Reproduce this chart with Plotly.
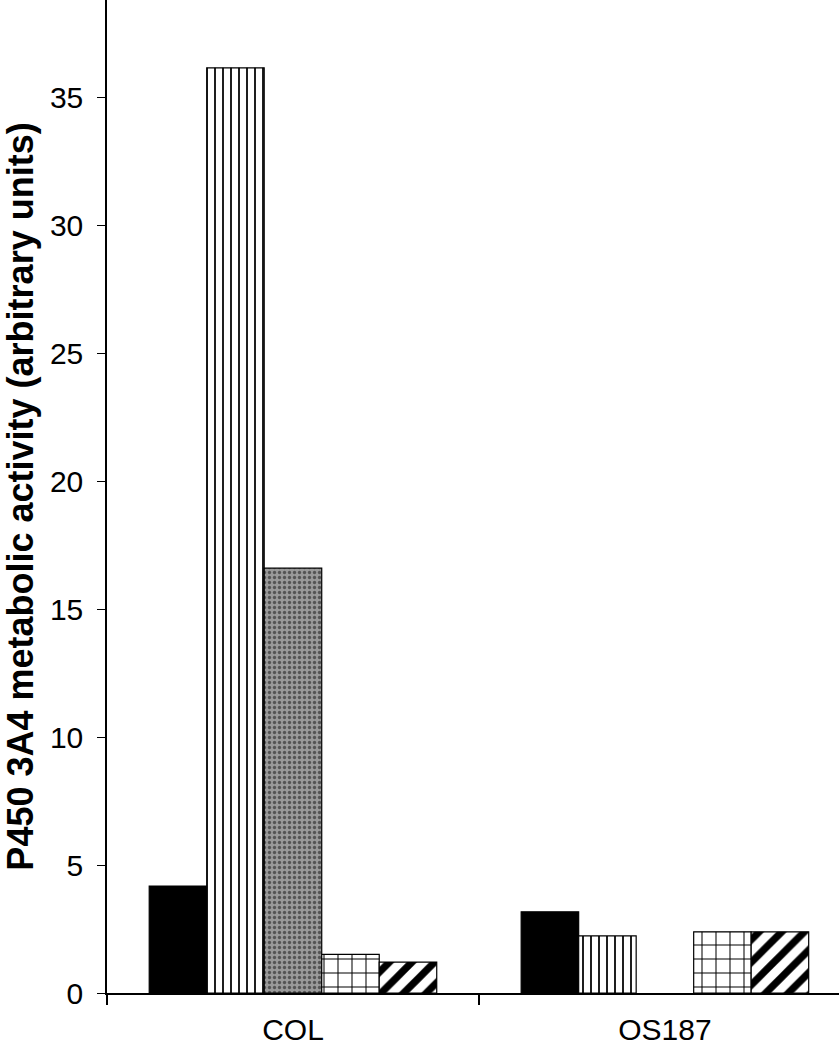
import plotly.graph_objects as go

categories = ["COL", "OS187"]
series_names = ["Series 1", "Series 2", "Series 3", "Series 4", "Series 5"]
s1 = [4.18, 3.17]
s2 = [36.15, 2.23]
s3 = [16.6, None]
s4 = [1.51, 2.39]
s5 = [1.21, 2.39]
y_ticks = [0, 5, 10, 15, 20, 25, 30, 35]
y_title = "P450 3A4 metabolic activity (arbitrary units)"

styles = [
    dict(color="black", pattern=dict(shape="")),
    dict(color="white", pattern=dict(shape="|", fgcolor="black", bgcolor="white", size=8, solidity=0.22, fgopacity=1)),
    dict(color="#8a8a8a", pattern=dict(shape=".", fgcolor="#555555", bgcolor="#9a9a9a", size=5, solidity=0.35, fgopacity=1)),
    dict(color="white", pattern=dict(shape="+", fgcolor="black", bgcolor="white", size=14, solidity=0.14, fgopacity=1)),
    dict(color="white", pattern=dict(shape="/", fgcolor="black", bgcolor="white", size=16, solidity=0.45, fgopacity=1)),
]

fig = go.Figure()
for name, vals, st in zip(series_names, [s1, s2, s3, s4, s5], styles):
    fig.add_trace(go.Bar(
        x=categories, y=vals, name=name,
        marker=dict(color=st["color"], pattern=st["pattern"],
                    line=dict(color="black", width=1.2)),
    ))

fig.update_layout(
    width=839, height=1050,
    margin=dict(l=107, r=0, t=0, b=57),
    paper_bgcolor="white", plot_bgcolor="white",
    barmode="group", bargap=0.227, bargroupgap=0,
    showlegend=False,
    font=dict(family="Liberation Sans, Arial, sans-serif", color="black", size=30),
    xaxis=dict(
        type="category", range=[-0.5, 1.468], automargin=False,
        showline=True, linecolor="black", linewidth=1.5,
        ticks="outside", tickson="boundaries", ticklen=10, tickcolor="black", tickwidth=1.5,
        ticklabelstandoff=9,
        tickfont=dict(size=30), showgrid=False, zeroline=False,
    ),
    yaxis=dict(
        range=[0, 38.8], tickvals=y_ticks, automargin=False,
        showline=True, linecolor="black", linewidth=1.5,
        ticks="outside", ticklen=8, tickcolor="black", tickwidth=1.2,
        ticklabelstandoff=8,
        tickfont=dict(size=30), showgrid=False, zeroline=False,
        title=dict(text=y_title, font=dict(size=36, weight="bold"), standoff=14),
    ),
)

fig.write_html("out.html", config={"displayModeBar": False},
               post_script="document.body.style.margin='0px';document.body.style.overflow='hidden';")
